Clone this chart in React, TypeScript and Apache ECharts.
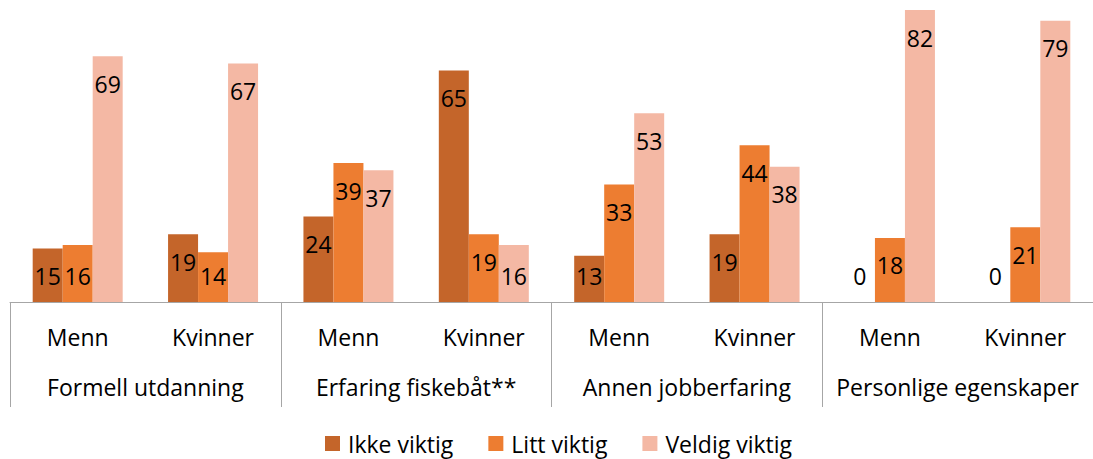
import React, { useEffect, useRef } from "react";
import * as echarts from "echarts";

const subCategories = ["Menn", "Kvinner", "Menn", "Kvinner", "Menn", "Kvinner", "Menn", "Kvinner"];
const groups = ["Formell utdanning", "Erfaring fiskebåt**", "Annen jobberfaring", "Personlige egenskaper"];
const seriesNames = ["Ikke viktig", "Litt viktig", "Veldig viktig"];
const ikkeViktig = [15, 19, 24, 65, 13, 19, 0, 0];
const littViktig = [16, 14, 39, 19, 33, 44, 18, 21];
const veldigViktig = [69, 67, 37, 16, 53, 38, 82, 79];
const colors = ["#C4652A", "#ED7D31", "#F4B8A4"];

const FONT = "'Open Sans', 'Noto Sans', sans-serif";

export default function App() {
  const ref = useRef<HTMLDivElement>(null);
  useEffect(() => {
    if (!ref.current) return;
    const chart = echarts.init(ref.current, undefined, { renderer: "svg" });
    const mk = (vals: number[]) =>
      vals.map((v) =>
        v < 16.5
          ? { value: v, label: { position: "insideBottom", distance: 15 } }
          : { value: v }
      );
    const allData = [ikkeViktig, littViktig, veldigViktig];
    chart.setOption({
      animation: false,
      textStyle: { fontFamily: FONT },
      grid: { left: 10, width: 1087, top: 10, bottom: 157, containLabel: false },
      legend: {
        data: seriesNames,
        top: 427,
        left: 320,
        icon: "rect",
        itemWidth: 15,
        itemHeight: 15,
        itemGap: 35,
        textStyle: { fontSize: 23, color: "#000", fontFamily: FONT, padding: [0, 0, 0, 3] },
      },
      xAxis: [
        {
          type: "category",
          data: subCategories,
          position: "bottom",
          axisLine: { show: true, lineStyle: { color: "#A6A6A6", width: 1 } },
          axisTick: { show: false },
          axisLabel: { color: "#000", fontSize: 23, margin: 23, fontFamily: FONT, interval: 0 },
        },
        {
          type: "category",
          data: groups,
          position: "bottom",
          axisLine: { show: false },
          axisTick: { show: true, length: 105, lineStyle: { color: "#A6A6A6", width: 1 } },
          axisLabel: { color: "#000", fontSize: 23, margin: 73, fontFamily: FONT, interval: 0 },
        },
      ],
      yAxis: { type: "value", min: 0, max: 82, show: false, splitLine: { show: false } },
      series: allData.map((vals, i) => ({
        name: seriesNames[i],
        type: "bar",
        xAxisIndex: 0,
        barWidth: 30,
        barGap: "0%",
        itemStyle: { color: colors[i] },
        label: {
          show: true,
          position: "insideTop",
          distance: 16,
          color: "#000",
          fontSize: 23,
          fontFamily: FONT,
        },
        data: mk(vals),
      })),
    });
    return () => chart.dispose();
  }, []);
  return (
    <div
      ref={ref}
      style={{ position: "absolute", left: 0, top: 0, width: 1093, height: 459, background: "#fff" }}
    />
  );
}
